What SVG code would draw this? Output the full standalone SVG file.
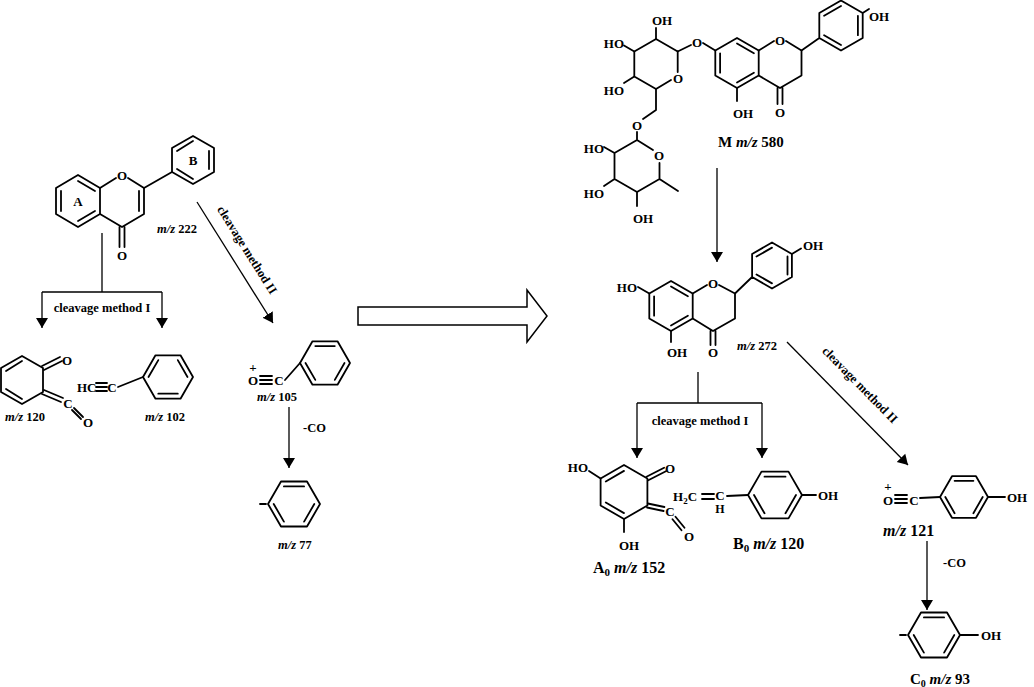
<svg xmlns="http://www.w3.org/2000/svg" width="1034" height="687" viewBox="0 0 1034 687">
<style>
.b{stroke:#000;stroke-width:1.8;fill:none;stroke-linecap:round;stroke-linejoin:round}
.a{stroke:#000;stroke-width:1.3;fill:none}
text{font-family:"Liberation Serif",serif;font-weight:bold;fill:#000}
.t{font-size:13px}
.s{font-size:12.5px}
.l{font-size:16px}
.m{text-anchor:middle}
.e{text-anchor:end}
</style>
<defs>
<marker id="ah" viewBox="0 0 10 14" refX="10" refY="7" markerWidth="10" markerHeight="14" markerUnits="userSpaceOnUse" orient="auto">
<path d="M0,1 L10,7 L0,13 Z" fill="#000"/>
</marker>
</defs>
<rect width="1034" height="687" fill="#fff"/>

<g id="flavone">
<path class="b" d="M78,175 L100,188 L100,214 L78,227 L56,214 L56,188 Z"/>
<path class="b" d="M78,181 L95,191 M95,211 L78,221 M61,211 L61,191"/>
<path class="b" d="M100,188 L116,178 M128,178 L144,188 L144,214 L122,227 L100,214 M139,191 L139,211"/>
<path class="b" d="M119.5,227 L119.5,247 M124.5,227 L124.5,247 M144,188 L172,172"/>
<path class="b" d="M172,148 L193,136 L214,148 L214,172 L193,184 L172,172 Z M177,151 L193,141 M209,151 L209,169 M193,179 L177,169"/>
<text class="t m" x="122" y="180">O</text>
<text class="t m" x="122" y="260">O</text>
<text class="t m" x="78" y="206">A</text>
<text class="t m" x="193" y="165">B</text>
<text class="s" x="157" y="233"><tspan font-style="italic">m/z</tspan> 222</text>
</g>

<g id="p120">
<path class="b" d="M22,356 L43,368 L43,392 L22,404 L1,392 L1,368 Z M22,361 L6,371 M22,399 L6,389"/>
<path class="b" d="M42,366 L60,357 M44,370 L62,361 M44,390 L63,398 M42,394 L61,402 M74,408 L83,417 M72,410 L81,419"/>
<text class="t m" x="67" y="365">O</text>
<text class="t m" x="68" y="408">C</text>
<text class="t m" x="88" y="427">O</text>
<text class="s" x="5" y="421"><tspan font-style="italic">m/z</tspan> 120</text>
</g>

<g id="p102">
<text class="t" x="77" y="392">HC</text>
<path class="b" d="M96,383 L107,383 M96,387 L107,387 M96,391 L107,391 M118,387 L143,377"/>
<text class="t m" x="112" y="392">C</text>
<path class="b" d="M143,377 L155.5,355.3 L180.5,355.3 L193,377 L180.5,398.7 L155.5,398.7 Z M148.5,377 L158.3,360.1 M177.8,360.1 L187.5,377 M177.8,393.7 L158.3,393.7"/>
<text class="s" x="145" y="421"><tspan font-style="italic">m/z</tspan> 102</text>
</g>

<g id="p105">
<text class="t m" x="253" y="385">O</text>
<text class="t m" x="253" y="372" font-size="11">+</text>
<path class="b" d="M260,376 L272,376 M260,380 L272,380 M260,384 L272,384 M285,380 L300,363"/>
<text class="t m" x="279" y="385">C</text>
<path class="b" d="M300,363 L312.5,341.3 L337.5,341.3 L350,363 L337.5,384.7 L312.5,384.7 Z M315.3,346.1 L334.8,346.1 M344.5,363 L334.8,379.9 M315.3,379.9 L305.5,363"/>
<text class="s" x="257" y="401"><tspan font-style="italic">m/z</tspan> 105</text>
</g>

<g id="p77">
<path class="b" d="M268,504 L281,481.5 L307,481.5 L320,504 L307,526.5 L281,526.5 Z M283.9,486.4 L304.1,486.4 M314.3,504 L304.1,521.6 M283.9,521.6 L273.7,504 M260,504 L266,504"/>
<text class="s" x="278" y="549"><tspan font-style="italic">m/z</tspan> 77</text>
</g>

<g id="naringin">
<path class="b" d="M737,38 L758.7,50.5 L758.7,75.5 L737,88 L715.3,75.5 L715.3,50.5 Z M737,43.5 L753.9,53.3 M753.9,72.7 L737,82.5 M720.1,72.7 L720.1,53.3"/>
<path class="b" d="M758.7,50.5 L774,41 M786,41 L801.5,50.5 L801.5,75.5 L780,88 L758.7,75.5 M777.5,88 L777.5,104 M782.5,88 L782.5,104 M737,88 L737,101"/>
<path class="b" d="M801.5,50.5 L819.3,38 M819.3,38 L819.3,13 L841,0.5 L862.7,13 L862.7,38 L841,50.5 Z M824.1,15.8 L841,6 M857.9,15.8 L857.9,35.2 M841,45 L824.1,35.2 M862.7,13 L869,9"/>
<text class="t m" x="780" y="45">O</text>
<text class="t m" x="780" y="117">O</text>
<text class="t" x="733" y="118">OH</text>
<text class="t" x="869" y="21">OH</text>
<path class="b" d="M715.3,50.5 L703,43 M691,45 L677.7,51.5"/>
<text class="t m" x="697" y="47">O</text>
<path class="b" d="M677.7,51.5 L656,39 L634.3,51.5 L634.3,76.5 L656,89 L671,80 M677.7,51.5 L677.7,72"/>
<text class="t m" x="678" y="83">O</text>
<path class="b" d="M656,39 L656,28 M634.3,51.5 L624,45.5 M634.3,76.5 L624,83 M656,89 L656,110 L643,119"/>
<text class="t" x="652" y="25">OH</text>
<text class="t e" x="624" y="48">HO</text>
<text class="t e" x="624" y="95">HO</text>
<text class="t m" x="637" y="130">O</text>
<path class="b" d="M637,132 L637,140 L653,150 M659.5,163 L659.5,179 L637,192 L614.5,179 L614.5,153 L637,140 M659.5,179 L678,191 M614.5,153 L604,147 M614.5,179 L604,186 M637,192 L637,206"/>
<text class="t m" x="659" y="160">O</text>
<text class="t e" x="604" y="153">HO</text>
<text class="t e" x="604" y="198">HO</text>
<text class="t" x="633" y="223">OH</text>
<text x="718" y="147" font-size="15"><tspan>M </tspan><tspan font-style="italic">m/z</tspan> 580</text>
</g>

<g id="naringenin">
<path class="b" d="M671,281 L692.7,293.5 L692.7,318.5 L671,331 L649.3,318.5 L649.3,293.5 Z M671,286.5 L687.9,296.3 M687.9,315.7 L671,325.5 M654.1,315.7 L654.1,296.3"/>
<path class="b" d="M692.7,293.5 L707,285 M719,285 L735,293.5 L735,318.5 L713,331 L692.7,318.5 M710.5,331 L710.5,345 M715.5,331 L715.5,345 M671,331 L671,342 M649.3,293.5 L638,287"/>
<path class="b" d="M735,293.5 L752.1,277 M752.1,277 L752.1,254 L772,242.5 L791.9,254 L791.9,277 L772,288.5 Z M756.5,256.5 L772,247.6 M787.5,256.5 L787.5,274.5 M772,283.4 L756.5,274.5 M791.9,254 L801,248.5"/>
<text class="t m" x="713" y="288">O</text>
<text class="t m" x="713" y="357">O</text>
<text class="t" x="667" y="357">OH</text>
<text class="t e" x="637" y="292">HO</text>
<text class="t" x="803" y="250">OH</text>
<text class="s" x="737" y="350"><tspan font-style="italic">m/z</tspan> 272</text>
</g>

<g id="a0">
<path class="b" d="M624,465 L647.4,478.5 L647.4,505.5 L624,519 L600.6,505.5 L600.6,478.5 Z M605.8,481.5 L624,470.9 M605.8,502.5 L624,513.1"/>
<path class="b" d="M646.5,476.7 L664.1,467.7 M648.3,480.3 L665.9,471.3 M647.8,503.5 L664.4,507 M647,507.5 L663.6,511 M675.5,516.7 L684.5,527.7 M672.5,519.3 L681.5,530.3 M600.6,478.5 L589,471 M624,519 L624,532"/>
<text class="t m" x="670" y="473">O</text>
<text class="t m" x="670" y="516">C</text>
<text class="t m" x="689" y="541">O</text>
<text class="t e" x="588" y="472">HO</text>
<text class="t" x="619" y="550">OH</text>
<text class="l" x="593" y="573">A<tspan font-size="11" dy="3">0</tspan><tspan dy="-3"> </tspan><tspan font-style="italic">m/z</tspan> 152</text>
</g>

<g id="b0">
<text class="t" x="673" y="501">H<tspan font-size="9" dy="3">2</tspan><tspan dy="-3">C</tspan></text>
<path class="b" d="M702,494 L714,494 M702,499 L714,499 M727,496 L748,495"/>
<text class="t m" x="720" y="500">C</text>
<text class="m" x="720" y="513" font-size="12">H</text>
<path class="b" d="M748,495 L761.5,471.6 L788.5,471.6 L802,495 L788.5,518.4 L761.5,518.4 Z M764.5,476.7 L785.5,476.7 M796,495 L785.5,513.3 M764.5,513.3 L754,495 M802,495 L816,495"/>
<text class="t" x="818" y="500">OH</text>
<text class="l" x="733" y="549">B<tspan font-size="11" dy="3">0</tspan><tspan dy="-3"> </tspan><tspan font-style="italic">m/z</tspan> 120</text>
</g>

<g id="p121">
<text class="t m" x="888" y="505">O</text>
<text class="t m" x="888" y="491" font-size="11">+</text>
<path class="b" d="M895,495 L907,495 M895,499 L907,499 M895,503 L907,503 M920,498 L940,497"/>
<text class="t m" x="914" y="505">C</text>
<path class="b" d="M940,497 L952,476.2 L976,476.2 L988,497 L976,517.8 L952,517.8 Z M954.6,480.8 L973.4,480.8 M982.7,497 L973.4,513.2 M954.6,513.2 L945.3,497 M988,497 L1005,497"/>
<text class="t" x="1007" y="502">OH</text>
<text class="l" x="883" y="536"><tspan font-style="italic">m/z</tspan> 121</text>
</g>

<g id="c0">
<path class="b" d="M908,635 L921,612.5 L947,612.5 L960,635 L947,657.5 L921,657.5 Z M923.9,617.4 L944.1,617.4 M954.3,635 L944.1,652.6 M923.9,652.6 L913.7,635 M900,635 L906,635 M960,635 L978,635"/>
<text class="t" x="981" y="640">OH</text>
<text x="910" y="684" font-size="15">C<tspan font-size="10" dy="3">0</tspan><tspan dy="-3"> </tspan><tspan font-style="italic">m/z</tspan> 93</text>
</g>

<g id="connectors">
<path class="a" d="M102,233 L102,292 M42,292 L162,292"/>
<path class="a" d="M42,292 L42,328" marker-end="url(#ah)"/>
<path class="a" d="M162,292 L162,328" marker-end="url(#ah)"/>
<path class="a" d="M197,202 L273,323" marker-end="url(#ah)"/>
<path class="a" d="M289,407 L289,468" marker-end="url(#ah)"/>
<polygon points="358,307 527,307 527,290 547,316 527,342 527,325 358,325" fill="#fff" stroke="#000" stroke-width="1.5"/>
<path class="a" d="M717,168 L717,262" marker-end="url(#ah)"/>
<path class="a" d="M698,372 L698,403 M637,403 L762,403"/>
<path class="a" d="M637,403 L637,458" marker-end="url(#ah)"/>
<path class="a" d="M762,403 L762,458" marker-end="url(#ah)"/>
<path class="a" d="M787,342 L908,465" marker-end="url(#ah)"/>
<path class="a" d="M927,541 L927,610" marker-end="url(#ah)"/>
<text class="s m" x="102" y="312">cleavage method I</text>
<text class="s m" x="700" y="425">cleavage method I</text>
<text class="s m" transform="translate(247,250) rotate(58)" y="4">cleavage method II</text>
<text class="s m" transform="translate(860,385) rotate(45.5)" y="4">cleavage method II</text>
<text class="s" x="303" y="432">-CO</text>
<text class="s" x="943" y="567">-CO</text>
</g>
</svg>
